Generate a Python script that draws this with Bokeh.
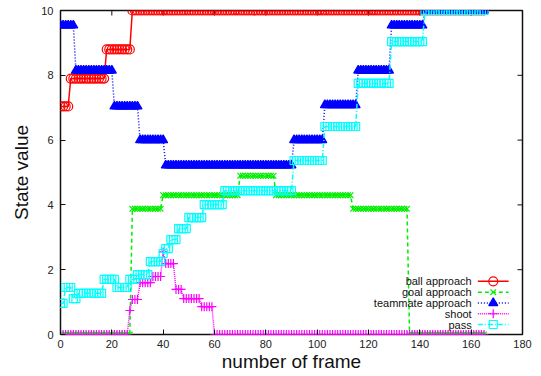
import numpy as np
from bokeh.plotting import figure
from bokeh.models import Range1d, FixedTicker, Label
from bokeh.embed import file_html
from bokeh.resources import INLINE

# ---- data: frame index and step-wise state values (level, run length in frames) ----
frames = np.arange(0, 166)

ball_levels = [7.04, 7.90, 8.80, 10.0]
ball_runs = [4, 14, 10, 138]

goal_levels = [0.0, 3.88, 4.30, 4.90, 4.30, 3.88, 0.0]
goal_runs = [28, 12, 30, 14, 30, 22, 30]

mate_levels = [9.54, 8.15, 7.04, 6.00, 5.22, 6.00, 7.08, 8.15, 9.54, 10.0]
mate_runs = [6, 15, 10, 10, 50, 12, 13, 13, 13, 24]

shoot_levels = [0.0, 0.74, 1.08, 1.60, 1.79, 2.55, 2.19, 1.39, 1.11, 0.86, 0.0]
shoot_runs = [27, 1, 3, 5, 4, 1, 4, 3, 7, 5, 106]

pass_levels = [0.96, 1.45, 1.11, 1.27, 1.70, 1.45, 1.70, 1.85, 2.25, 2.50, 2.65,
               2.93, 3.27, 3.61, 4.01, 4.44, 5.37, 6.42, 7.75, 9.04, 10.0]
pass_runs = [2, 3, 2, 10, 5, 5, 3, 5, 5, 1, 2, 3, 4, 6, 8, 27, 12, 13, 13, 13, 24]

labels = ["ball approach", "goal approach", "teammate approach", "shoot", "pass"]
x_ticks = [0, 20, 40, 60, 80, 100, 120, 140, 160, 180]
y_ticks = [0, 2, 4, 6, 8, 10]
X_MAX, Y_MAX = 180, 10


def expand(levels, runs):
    return np.repeat(np.asarray(levels, dtype=float), runs)


series = [
    expand(ball_levels, ball_runs),
    expand(goal_levels, goal_runs),
    expand(mate_levels, mate_runs),
    expand(shoot_levels, shoot_runs),
    expand(pass_levels, pass_runs),
]

styles = [
    dict(color="#ff0000", dash="solid", marker="circle", size=9, fill=None),
    dict(color="#00ee00", dash="4 3", marker="x", size=8, fill=None),
    dict(color="#0000ff", dash="1 2", marker="triangle", size=9, fill="#0000ff"),
    dict(color="#ff00ff", dash="1 1", marker="cross", size=9, fill=None),
    dict(color="#00ffff", dash="5 2 1 2", marker="square", size=8, fill=None),
]

FONT = "Liberation Sans"

p = figure(width=541, height=376, output_backend="svg", toolbar_location=None,
           x_range=Range1d(0, X_MAX), y_range=Range1d(0, Y_MAX),
           min_border_left=60, min_border_right=19,
           min_border_top=10, min_border_bottom=42)

p.background_fill_color = "white"
p.border_fill_color = "white"
p.outline_line_color = "#111111"
p.outline_line_width = 1.5
p.xgrid.visible = False
p.ygrid.visible = False

for ax, ticks in ((p.xaxis[0], x_ticks), (p.yaxis[0], y_ticks)):
    ax.ticker = FixedTicker(ticks=ticks)
    ax.major_tick_in = 5
    ax.major_tick_out = 0
    ax.minor_tick_line_color = None
    ax.axis_line_color = None
    ax.major_tick_line_color = "#111111"
    ax.major_label_text_font = FONT
    ax.major_label_text_font_size = "11px"
    ax.major_label_text_color = "#222222"
    ax.axis_label_text_font = FONT
    ax.axis_label_text_font_size = "19px"
    ax.axis_label_text_font_style = "normal"
    ax.axis_label_text_color = "#111111"

p.xaxis.axis_label = "number of frame"
p.yaxis.axis_label = "State value"
p.xaxis.major_label_standoff = 5
p.yaxis.major_label_standoff = 7
p.xaxis.axis_label_standoff = 0
p.yaxis.axis_label_standoff = 6

# mirror ticks on top and right edges (dash markers, half clipped by the frame)
p.scatter(x_ticks, [Y_MAX] * len(x_ticks), marker="dash", size=10, angle=np.pi / 2,
          line_color="#111111", line_width=1)
p.scatter([X_MAX] * len(y_ticks), y_ticks, marker="dash", size=10,
          line_color="#111111", line_width=1)

for ys, st in zip(series, styles):
    p.line(frames, ys, line_color=st["color"], line_width=1.5, line_dash=st["dash"])
    p.scatter(frames, ys, marker=st["marker"], size=st["size"], line_color=st["color"],
              fill_color=st["fill"], line_width=1.2)

# ---- legend (gnuplot style: text right-aligned, sample on the right) ----
leg_text_x = 160.2
leg_line_x0, leg_line_x1 = 162.6, 174.6
leg_mark_x = 168.6
leg_top = 1.64
leg_step = 0.333

for i, (lab, st) in enumerate(zip(labels, styles)):
    yy = leg_top - i * leg_step
    p.add_layout(Label(x=leg_text_x, y=yy, text=lab, text_align="right",
                       text_baseline="middle", text_font=FONT,
                       text_font_size="11px", text_color="#111111"))
    p.line([leg_line_x0, leg_line_x1], [yy, yy], line_color=st["color"],
           line_width=1.5, line_dash=st["dash"])
    p.scatter([leg_mark_x], [yy], marker=st["marker"], size=st["size"],
              line_color=st["color"], fill_color=st["fill"], line_width=1.2)

open("out.html", "w").write(file_html(p, INLINE))
